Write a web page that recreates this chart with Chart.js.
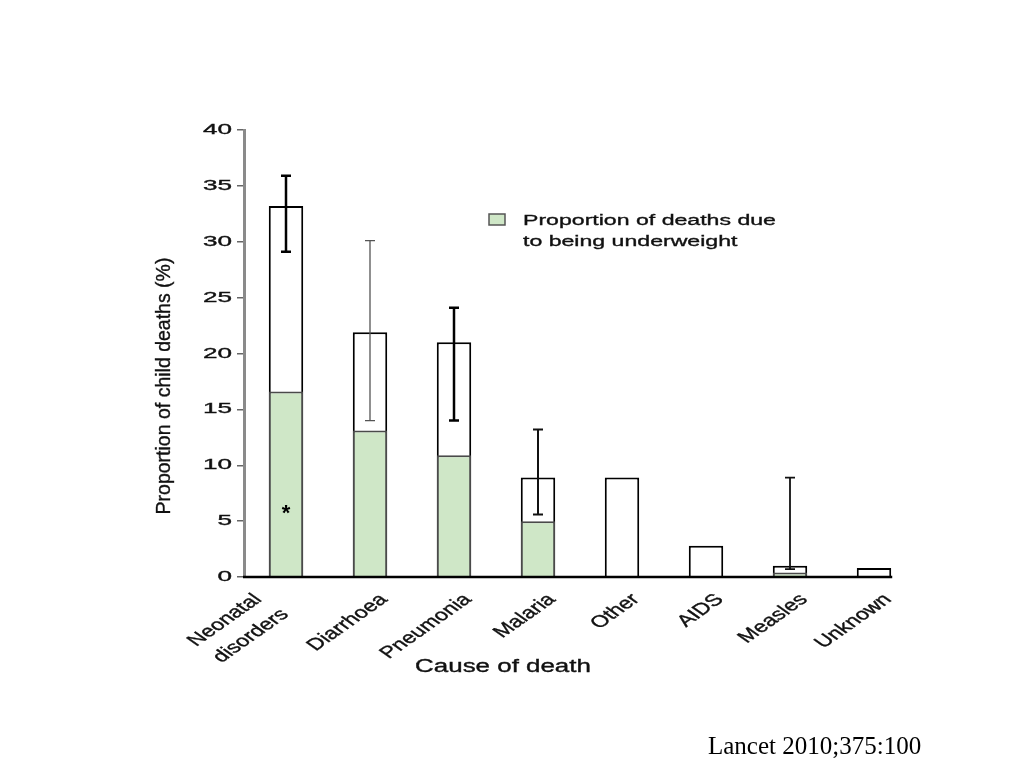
<!DOCTYPE html>
<html><head><meta charset="utf-8">
<script src="https://cdn.jsdelivr.net/npm/chart.js@4/dist/chart.umd.min.js"></script>
<style>
html,body{margin:0;padding:0;background:#fff;width:1024px;height:768px;overflow:hidden}
#wrap{position:absolute;left:0;top:0;width:1024px;height:768px}
#cap{position:absolute;left:708px;top:732px;font-family:"Liberation Serif","Times New Roman",serif;font-size:25px;color:#000;white-space:nowrap}
</style></head><body>
<div id="wrap"><canvas id="c" width="1024" height="768"></canvas></div>
<div id="cap">Lancet 2010;375:100</div>
<script>
// ---- data ----
const categories = [["Neonatal","disorders"], "Diarrhoea", "Pneumonia", "Malaria", "Other", "AIDS", "Measles", "Unknown"];
const totalDeaths = [33.2, 21.9, 21.0, 8.9, 8.9, 2.8, 1.0, 0.8];
const underweightDeaths = [16.6, 13.1, 10.9, 5.0, null, null, 0.4, null];
const errorLow = [29.1, 14.0, 14.0, 5.6, null, null, 0.7, null];
const errorHigh = [35.9, 30.1, 24.1, 13.2, null, null, 8.9, null];
const yTickValues = [0, 5, 10, 15, 20, 25, 30, 35, 40];
const legendLines = ["Proportion of deaths due", "to being underweight"];
const yTitle = "Proportion of child deaths (%)";
const xTitle = "Cause of death";
const asteriskCategory = 0;
const asteriskValue = 6;

// ---- styles ----
const GREEN = '#cfe7c7';
const errStyle = [
  {w: 2.5, c: '#000'}, {w: 1.3, c: '#555'}, {w: 2.5, c: '#000'}, {w: 2, c: '#111'},
  null, null, {w: 1.8, c: '#111'}, null
];
const SX = 1.42; // horizontal stretch of the reference text

function boldText(ctx, s, x, y) {
  ctx.fillText(s, x, y);
  ctx.strokeText(s, x, y);
}

const extras = {
  id: 'extras',
  afterDatasetsDraw(chart) {
    const {ctx, chartArea, scales: {x, y}} = chart;
    const meta = chart.getDatasetMeta(0);
    const last = meta.data[meta.data.length - 1];
    ctx.save();
    ctx.strokeStyle = '#000';
    ctx.lineWidth = 2.5;
    ctx.beginPath();
    ctx.moveTo(chartArea.left - 1, y.getPixelForValue(0));
    ctx.lineTo(last.x + last.width / 2 + 1, y.getPixelForValue(0));
    ctx.stroke();
    categories.forEach((c, i) => {
      if (errorLow[i] == null) return;
      const st = errStyle[i];
      const cx = x.getPixelForValue(i);
      const y1 = y.getPixelForValue(errorLow[i]);
      const y2 = y.getPixelForValue(errorHigh[i]);
      ctx.strokeStyle = st.c;
      ctx.lineWidth = st.w;
      ctx.beginPath();
      ctx.moveTo(cx, y1); ctx.lineTo(cx, y2);
      ctx.moveTo(cx - 5, y1); ctx.lineTo(cx + 5, y1);
      ctx.moveTo(cx - 5, y2); ctx.lineTo(cx + 5, y2);
      ctx.stroke();
    });
    ctx.fillStyle = '#000';
    ctx.font = 'bold 22px "Liberation Sans", Arial, sans-serif';
    ctx.textAlign = 'center';
    ctx.textBaseline = 'middle';
    ctx.fillText('*', x.getPixelForValue(asteriskCategory), y.getPixelForValue(asteriskValue) + 4);
    ctx.restore();
  },
  afterDraw(chart) {
    const {ctx, chartArea, scales: {x, y}} = chart;
    ctx.save();
    ctx.fillStyle = '#111';
    ctx.strokeStyle = '#111';
    ctx.lineWidth = 0.35;
    // y tick labels
    ctx.font = '14.5px "Liberation Sans", Arial, sans-serif';
    ctx.textAlign = 'right';
    ctx.textBaseline = 'middle';
    y.ticks.forEach(t => {
      ctx.save();
      ctx.translate(chartArea.left - 12, y.getPixelForValue(t.value));
      ctx.scale(1.8, 1);
      boldText(ctx, String(t.value), 0, 0);
      ctx.restore();
    });
    // x tick labels (rotated)
    ctx.font = '16.5px "Liberation Sans", Arial, sans-serif';
    ctx.textAlign = 'right';
    ctx.textBaseline = 'middle';
    categories.forEach((c, i) => {
      const lines = Array.isArray(c) ? c : [c];
      const n = lines.length;
      const cx = x.getPixelForValue(i);
      const lastX = cx + 14 - 15 * (n - 1);
      const lastY = chartArea.bottom + 20 + 15 * (n - 1);
      lines.forEach((ln, k) => {
        const d = n - 1 - k;
        ctx.save();
        ctx.translate(lastX - 27 * d, lastY - 15 * d);
        ctx.scale(SX, 1);
        ctx.rotate(-Math.PI / 4);
        boldText(ctx, ln, 0, 0);
        ctx.restore();
      });
    });
    // x title
    ctx.font = '18px "Liberation Sans", Arial, sans-serif';
    ctx.textAlign = 'center';
    ctx.textBaseline = 'middle';
    ctx.save();
    ctx.translate(503, 667);
    ctx.scale(1.44, 1);
    boldText(ctx, xTitle, 0, 0);
    ctx.restore();
    // y title
    ctx.save();
    ctx.font = '19.5px "Liberation Sans", Arial, sans-serif';
    ctx.translate(165, 386);
    ctx.rotate(-Math.PI / 2);
    boldText(ctx, yTitle, 0, 0);
    ctx.restore();
    // legend
    ctx.fillStyle = GREEN;
    ctx.fillRect(489, 214, 16, 11);
    ctx.strokeStyle = '#555';
    ctx.lineWidth = 1.5;
    ctx.strokeRect(489, 214, 16, 11);
    ctx.fillStyle = '#111';
    ctx.strokeStyle = '#111';
    ctx.lineWidth = 0.35;
    ctx.font = '15.5px "Liberation Sans", Arial, sans-serif';
    ctx.textAlign = 'left';
    legendLines.forEach((ln, k) => {
      ctx.save();
      ctx.translate(523, 221 + 21 * k);
      ctx.scale(1.49, 1);
      boldText(ctx, ln, 0, 0);
      ctx.restore();
    });
    ctx.restore();
  }
};

new Chart(document.getElementById('c'), {
  type: 'bar',
  data: {
    labels: categories,
    datasets: [
      {
        label: 'Total',
        data: totalDeaths,
        backgroundColor: '#fff',
        borderColor: '#000',
        borderWidth: 2,
        grouped: false,
        order: 2,
        barPercentage: 0.41,
        categoryPercentage: 1
      },
      {
        label: legendLines.join(' '),
        data: underweightDeaths,
        backgroundColor: GREEN,
        borderColor: '#4a4a4a',
        borderWidth: 2,
        grouped: false,
        order: 1,
        barPercentage: 0.41,
        categoryPercentage: 1
      }
    ]
  },
  options: {
    responsive: false,
    animation: false,
    devicePixelRatio: 1,
    layout: {padding: {left: 224, right: 108, top: 130, bottom: 181}},
    plugins: {legend: {display: false}, tooltip: {enabled: false}},
    scales: {
      x: {
        grid: {display: false},
        border: {display: false},
        ticks: {display: false},
        afterFit(s) { s.height = 10; }
      },
      y: {
        min: 0, max: 40,
        afterBuildTicks(s) { s.ticks = yTickValues.map(v => ({value: v})); },
        grid: {drawOnChartArea: false, drawTicks: true, tickLength: 7, color: '#666', lineWidth: 1.5},
        border: {display: true, color: '#8a8a8a', width: 3},
        ticks: {display: false},
        afterFit(s) { s.width = 20; }
      }
    }
  },
  plugins: [extras]
});
</script>
</body></html>
